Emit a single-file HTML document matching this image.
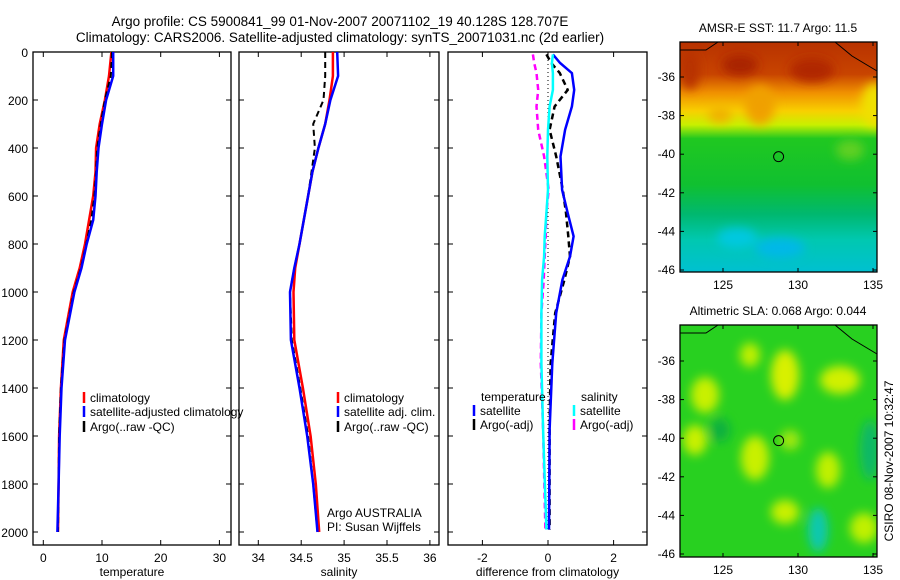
<!DOCTYPE html>
<html><head><meta charset="utf-8"><style>
body{margin:0;background:#fff;}
svg{display:block;font-family:"Liberation Sans",sans-serif;}
</style></head><body>
<svg id="c" width="900" height="580" xmlns="http://www.w3.org/2000/svg">
<defs>
<linearGradient id="sst" x1="0" y1="0" x2="0" y2="1">
<stop offset="0" stop-color="#b83200"/><stop offset="0.14" stop-color="#c84400"/><stop offset="0.22" stop-color="#f09000"/>
<stop offset="0.3" stop-color="#f8d000"/><stop offset="0.36" stop-color="#c8f000"/><stop offset="0.42" stop-color="#20c820"/>
<stop offset="0.62" stop-color="#10c030"/><stop offset="0.75" stop-color="#00b870"/><stop offset="0.86" stop-color="#00c8b0"/>
<stop offset="1" stop-color="#00c0d0"/></linearGradient>
<filter id="bl"><feGaussianBlur stdDeviation="5"/></filter>
<clipPath id="m1"><rect x="680" y="42" width="197" height="230"/></clipPath>
<clipPath id="m2"><rect x="680" y="325" width="197" height="232"/></clipPath>
</defs>
<g id="root"></g>
</svg>
<script>
// ---- data ----
const depths = [0,100,200,300,400,500,600,700,800,900,1000,1200,1400,1600,1800,2000];
const tempClim = [11.6,11.2,10.5,9.6,9.0,8.9,8.5,7.8,7.1,6.2,5.0,3.5,3.0,2.7,2.6,2.5];
const tempSat  = [11.9,11.9,10.7,10.0,9.4,9.1,8.9,8.5,7.4,6.5,5.3,3.7,3.1,2.8,2.6,2.4];
const tempArgo = [11.7,11.5,10.5,9.8,9.2,9.0,8.7,8.2,7.3,6.4,5.2,3.6,3.0,2.7,2.6,2.5];
const salClim = [34.87,34.87,34.83,34.78,34.70,34.63,34.58,34.53,34.48,34.43,34.41,34.42,34.52,34.61,34.67,34.71];
const salSat  = [34.92,34.93,34.84,34.78,34.70,34.63,34.58,34.53,34.48,34.42,34.37,34.38,34.48,34.57,34.64,34.69];
const salArgo = [34.78,34.78,34.76,34.64,34.66,34.62,34.58,34.53,34.48,34.42,34.37,34.39,34.49,34.58,34.64,34.69];
const diffDepths = [10,46,88,158,227,324,435,574,671,768,852,949,1088,1297,1574,1990];
const dTempSat  = [0.15,0.37,0.73,0.80,0.73,0.52,0.38,0.43,0.60,0.78,0.67,0.44,0.25,0.13,0.05,0.03];
const dTempArgo = [-0.05,0.10,0.36,0.60,0.20,0.05,0.25,0.45,0.55,0.62,0.67,0.50,0.22,0.08,0.05,0.05];
const dSalSat   = [0.15,0.12,0.15,0.15,0.05,0.0,-0.02,0.0,-0.05,-0.1,-0.12,-0.18,-0.2,-0.2,-0.15,-0.05];
const dSalArgo  = [-0.46,-0.42,-0.35,-0.30,-0.35,-0.30,-0.12,0.02,-0.05,-0.07,-0.1,-0.13,-0.2,-0.22,-0.15,-0.08];
const depthTicks = [0,200,400,600,800,1000,1200,1400,1600,1800,2000];
const tempTicks = [0,10,20,30];
const salTicks = [34,34.5,35,35.5,36];
const salTickLabels = ["34","34.5","35","35.5","36"];
const diffTicks = [-2,0,2];
const latTicks = [-36,-38,-40,-42,-44,-46];
const lonTicks = [125,130,135];
const argoLon = [128.707];
const argoLat = [-40.128];
// ---- scales ----
const Y0=52, Y1=532;
const yD = d => Y0 + d*(Y1-Y0)/2000;
const xT = v => 43.3 + v*5.87;
const xS = v => 258.3 + (v-34)*85.8;
const xDf = v => 548 + v*32.8;
const mLon = v => 723 + (v-125)*15;
const mLat1 = v => 77 + (-36 - v)*19.3;
const mLat2 = v => 361 + (-36 - v)*19.3;

const NS="http://www.w3.org/2000/svg";
const root=document.getElementById('root');
function el(tag,attrs,parent){const e=document.createElementNS(NS,tag);for(const k in attrs)e.setAttribute(k,attrs[k]);(parent||root).appendChild(e);return e;}
function txt(x,y,s,anchor,size,parent){const t=el('text',{x:x,y:y,'font-size':size||12,'text-anchor':anchor||'start',fill:'#000'},parent);t.textContent=s;return t;}

let t=txt(340,26,"Argo profile: CS 5900841_99 01-Nov-2007 20071102_19 40.128S 128.707E","middle",13.5);


t=txt(340,42,"Climatology: CARS2006. Satellite-adjusted climatology: synTS_20071031.nc (2d earlier)","middle",13.5);



function panel(name,x0,x1,xs,ticks,labels,xlabel){
  const g=el('g',{});
  
  
  el('rect',{x:x0,y:Y0,width:x1-x0,height:545-Y0,fill:'none',stroke:'#000','stroke-width':1.3},g);
  ticks.forEach((v,i)=>{const x=xs(v);
    el('line',{x1:x,x2:x,y1:545,y2:540,stroke:'#000'},g);
    el('line',{x1:x,x2:x,y1:Y0,y2:Y0+5,stroke:'#000'},g);
    txt(x,562,labels[i],'middle',12,g);});
  depthTicks.forEach(d=>{const y=yD(d);
    el('line',{x1:x0,x2:x0+5,y1:y,y2:y,stroke:'#000'},g);
    el('line',{x1:x1,x2:x1-5,y1:y,y2:y,stroke:'#000'},g);});
  const xl=txt((x0+x1)/2,576,xlabel,'middle',12,g);
  
  
  return g;
}
function series(g,name,dep,vals,xs,color,dash,w){
  const pts=vals.map((v,i)=>xs(v).toFixed(1)+','+yD(dep[i]).toFixed(1)).join(' ');
  const p=el('polyline',{points:pts,fill:'none',stroke:color,'stroke-width':w||2.5,'stroke-dasharray':dash||'none'},g);
  
  
}
function legend(g,x,y,color,label,name){
  const l=el('g',{},g);
  
  
  el('line',{x1:x,x2:x,y1:y-10,y2:y+1,stroke:color,'stroke-width':2.5},l);
  txt(x+6,y,label,'start',12,l);
}
const dl=el('g',{});


depthTicks.forEach(d=>txt(28,yD(d)+5,String(d),'end',12,dl));

const g1=panel('temperature-panel',33,231,xT,tempTicks,tempTicks.map(String),'temperature');
series(g1,'temp-climatology-line',depths,tempClim,xT,'#f00');
series(g1,'temp-argo-line',depths,tempArgo,xT,'#000','6 4',2);
series(g1,'temp-satellite-line',depths,tempSat,xT,'#00f');
legend(g1,84,402,'#f00','climatology','legend-climatology');
legend(g1,84,416,'#00f','satellite-adjusted climatology','legend-satellite-adjusted');
legend(g1,84,431,'#000','Argo(..raw -QC)','legend-argo');

const g2=panel('salinity-panel',239,439,xS,salTicks,salTickLabels,'salinity');
series(g2,'sal-climatology-line',depths,salClim,xS,'#f00');
series(g2,'sal-argo-line',depths,salArgo,xS,'#000','6 4',2);
series(g2,'sal-satellite-line',depths,salSat,xS,'#00f');
legend(g2,338,402,'#f00','climatology','legend-sal-climatology');
legend(g2,338,416,'#00f','satellite adj. clim.','legend-sal-satellite');
legend(g2,338,431,'#000','Argo(..raw -QC)','legend-sal-argo');
txt(327,517,'Argo AUSTRALIA','start',12,g2);
txt(327,531,'PI: Susan Wijffels','start',12,g2);

const g3=panel('difference-panel',448,647,xDf,diffTicks,diffTicks.map(String),'difference from climatology');
el('line',{x1:xDf(0),x2:xDf(0),y1:Y0,y2:Y1,stroke:'#000','stroke-dasharray':'1 3'},g3);
series(g3,'diff-sal-argo-line',diffDepths,dSalArgo,xDf,'#f0f','6 4',2.5);
series(g3,'diff-temp-argo-line',diffDepths,dTempArgo,xDf,'#000','6 4',2.5);
series(g3,'diff-temp-satellite-line',diffDepths,dTempSat,xDf,'#00f','none',2.5);
series(g3,'diff-sal-satellite-line',diffDepths,dSalSat,xDf,'#0ff','none',2.5);
txt(481,401,'temperature','start',12,g3);
txt(581,401,'salinity','start',12,g3);
legend(g3,474,415,'#00f','satellite','legend-diff-temp-satellite');
legend(g3,474,429,'#000','Argo(-adj)','legend-diff-temp-argo');
legend(g3,574,415,'#0ff','satellite','legend-diff-sal-satellite');
legend(g3,574,429,'#f0f','Argo(-adj)','legend-diff-sal-argo');

function map(name,top,bottom,latF,title,fillFn){
  const g=el('g',{});
  
  
  fillFn(g);
  el('polyline',{points:`680,${top+8} 706,${top+8} 718,${top}`,fill:'none',stroke:'#000'},g);
  el('polyline',{points:`835,${top} 852,${top+14} 877,${top+29}`,fill:'none',stroke:'#000'},g);
  el('rect',{x:680,y:top,width:197,height:bottom-top,fill:'none',stroke:'#000','stroke-width':1.3},g);
  latTicks.forEach(v=>{const y=latF(v);
    el('line',{x1:680,x2:684,y1:y,y2:y,stroke:'#000'},g);
    el('line',{x1:877,x2:873,y1:y,y2:y,stroke:'#000'},g);
    txt(675,y+4,String(v),'end',12,g);});
  lonTicks.forEach(v=>{const x=mLon(v);
    el('line',{x1:x,x2:x,y1:bottom,y2:bottom-4,stroke:'#000'},g);
    el('line',{x1:x,x2:x,y1:top,y2:top+4,stroke:'#000'},g);
    txt(x,bottom+17,String(v),'middle',12,g);});
  const c=el('circle',{cx:mLon(argoLon[0]),cy:latF(argoLat[0]),r:5,fill:'none',stroke:'#000'},g);
  
  
  txt(778,top-10,title,'middle',12,g);
}
map('sst-map',42,272,mLat1,'AMSR-E SST: 11.7 Argo: 11.5',g=>{
  const cg=el('g',{'clip-path':'url(#m1)'},g);
  el('rect',{x:680,y:42,width:197,height:230,fill:'url(#sst)'},cg);
  const b=el('g',{filter:'url(#bl)'},cg);
  [[740,65,18,10,'#a82000'],[812,70,22,12,'#b02800'],[690,70,10,20,'#b83000'],[760,105,15,20,'#f0a000'],
   [875,105,14,22,'#f0e000'],[850,150,14,10,'#60d020'],[720,115,12,8,'#f0b000'],[780,248,25,10,'#00b8e8'],[737,238,20,10,'#00c8e0']]
   .forEach(a=>el('ellipse',{cx:a[0],cy:a[1],rx:a[2],ry:a[3],fill:a[4]},b));
});
map('sla-map',325,557,mLat2,'Altimetric SLA: 0.068 Argo: 0.044',g=>{
  const cg=el('g',{'clip-path':'url(#m2)'},g);
  el('rect',{x:680,y:325,width:197,height:232,fill:'#28d020'},cg);
  const b=el('g',{filter:'url(#bl)'},cg);
  [[785,375,14,25,'#d8f000'],[705,395,14,18,'#c8f000'],[750,355,10,12,'#c0f000'],[840,380,20,14,'#d0f000'],
   [695,440,12,15,'#c8f000'],[755,458,14,22,'#c8f000'],[790,440,10,10,'#a0e810'],[828,470,12,18,'#c0f000'],
   [785,512,14,12,'#c8f000'],[818,530,10,22,'#10c8b0'],[864,528,14,15,'#c0f000'],[870,450,10,30,'#10b868'],
   [720,430,10,12,'#10b040']]
   .forEach(a=>el('ellipse',{cx:a[0],cy:a[1],rx:a[2],ry:a[3],fill:a[4]},b));
});
const cs=txt(0,0,'CSIRO 08-Nov-2007 10:32:47','middle',12);
cs.setAttribute('transform','translate(893,461) rotate(-90)');


</script>
</body></html>
